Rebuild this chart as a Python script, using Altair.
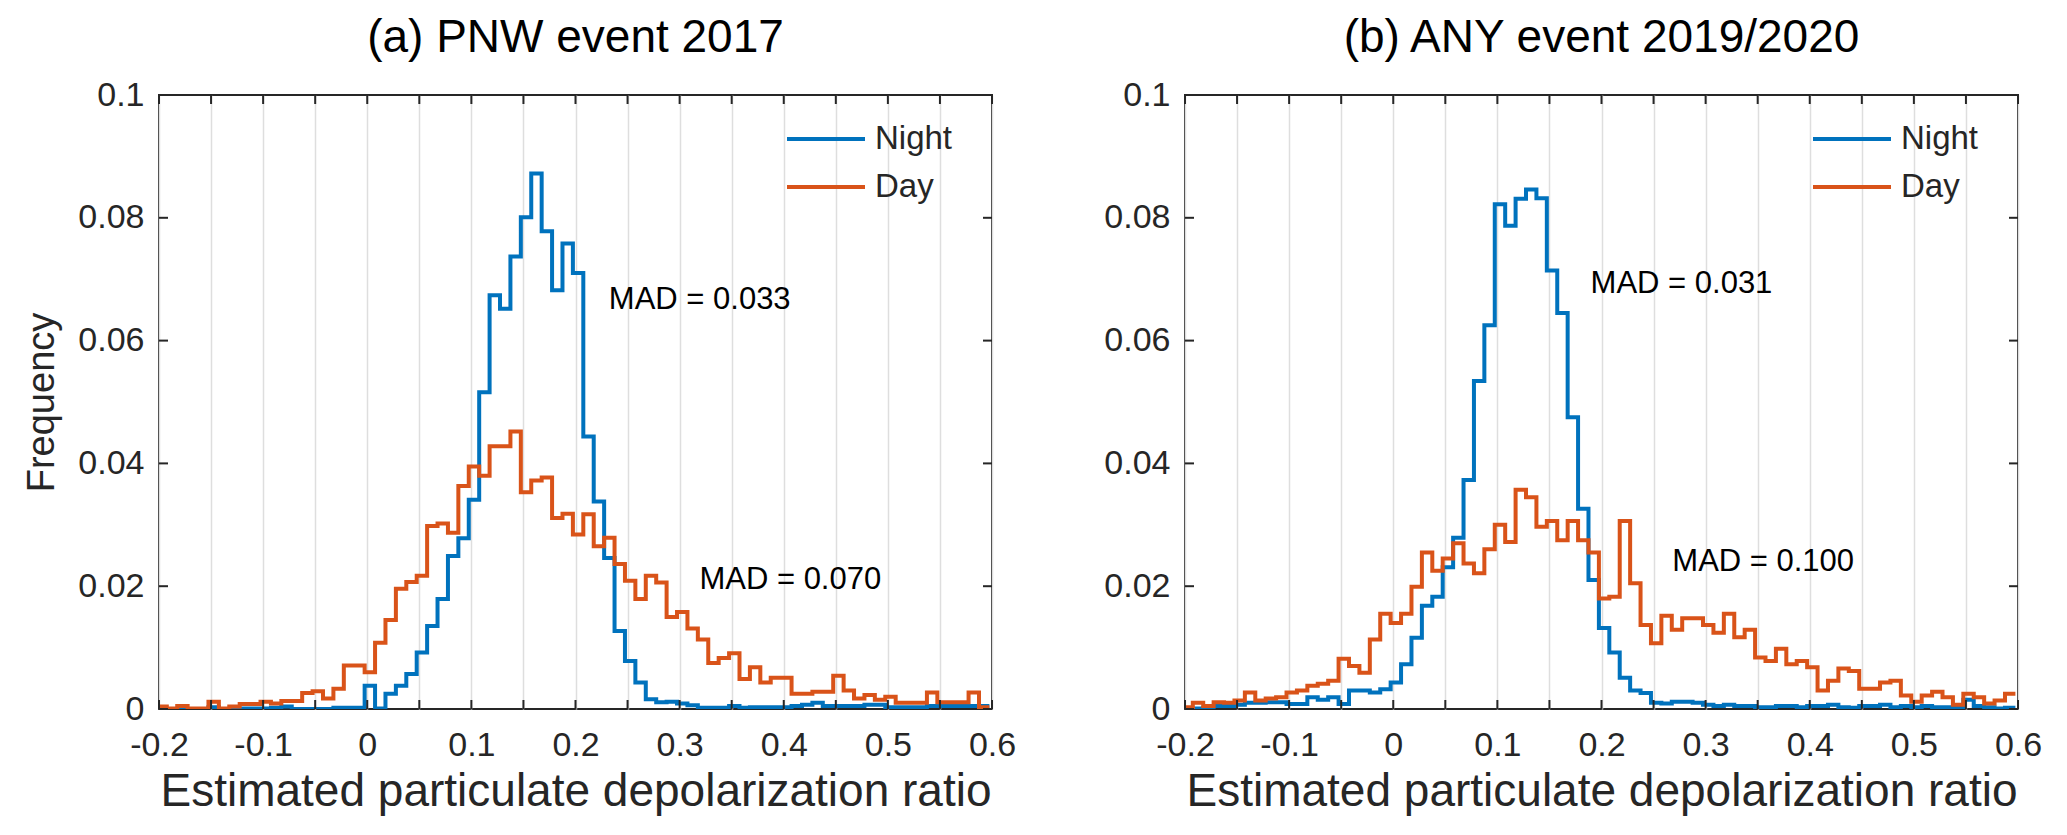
import altair as alt
import pandas as pd

# histogram bins (stairs), 0.01 wide
bin_start = -0.2025
bin_width = 0.01

# (a) PNW event 2017
pnw_night = [0, 0, 0, 0, 0, 0.0003, 0, 0, 0.0001, 0.0001,
             0.0001, 0.0002, 0.0004, 0, 0, 0, 0, 0.0002, 0.0002, 0.0002,
             0.0038, 0.0001, 0.0025, 0.0038, 0.0057, 0.0092, 0.0135, 0.0179, 0.0249, 0.0278,
             0.0341, 0.0516, 0.0674, 0.0652, 0.0737, 0.0801, 0.0872, 0.0778, 0.0682, 0.0758,
             0.0710, 0.0444, 0.0338, 0.0246, 0.0127, 0.0078, 0.0043, 0.0016, 0.0011, 0.0012,
             0.0009, 0.0006, 0.0002, 0.0002, 0.0002, 0.0005, 0.0002, 0.0003, 0.0003, 0.0003,
             0.0003, 0.0005, 0.0007, 0.0010, 0.0005, 0.0005, 0.0005, 0.0005, 0.0007, 0.0007,
             0.0003, 0.0003, 0.0003, 0.0003, 0.0005, 0.0005, 0.0005, 0.0005, 0.0005, 0.0005]
pnw_day = [0.0004, 0.0001, 0.0005, 0.0001, 0.0001, 0.0012, 0.0001, 0.0004, 0.0008, 0.0008,
           0.0012, 0.0009, 0.0013, 0.0013, 0.0026, 0.0029, 0.0017, 0.0033, 0.0071, 0.0071,
           0.0060, 0.0108, 0.0145, 0.0196, 0.0207, 0.0217, 0.0298, 0.0302, 0.0287, 0.0363,
           0.0395, 0.0380, 0.0428, 0.0428, 0.0452, 0.0353, 0.0372, 0.0377, 0.0311, 0.0318,
           0.0284, 0.0317, 0.0265, 0.0279, 0.0236, 0.0209, 0.0179, 0.0217, 0.0206, 0.0150,
           0.0158, 0.0131, 0.0113, 0.0075, 0.0083, 0.0091, 0.0049, 0.0068, 0.0043, 0.0051,
           0.0051, 0.0025, 0.0025, 0.0028, 0.0028, 0.0054, 0.0030, 0.0017, 0.0023, 0.0015,
           0.0020, 0.0010, 0.0010, 0.0010, 0.0027, 0.0011, 0.0011, 0.0011, 0.0027, 0.0003]

# (b) ANY event 2019/2020
any_night = [0.0001, 0.0001, 0.0002, 0.0005, 0.0005, 0.0007, 0.0010, 0.0010, 0.0011, 0.0011,
             0.0008, 0.0008, 0.0019, 0.0015, 0.0019, 0.0008, 0.0030, 0.0030, 0.0027, 0.0032,
             0.0043, 0.0073, 0.0116, 0.0168, 0.0183, 0.0231, 0.0279, 0.0373, 0.0534, 0.0625,
             0.0822, 0.0787, 0.0831, 0.0846, 0.0832, 0.0714, 0.0645, 0.0475, 0.0326, 0.0210,
             0.0132, 0.0092, 0.0051, 0.0030, 0.0026, 0.0010, 0.0009, 0.0012, 0.0012, 0.0010,
             0.0007, 0.0005, 0.0007, 0.0005, 0.0005, 0.0003, 0.0003, 0.0005, 0.0005, 0.0003,
             0.0005, 0.0005, 0.0007, 0.0003, 0.0002, 0.0005, 0.0005, 0.0007, 0.0003, 0.0005,
             0.0003, 0.0005, 0.0003, 0.0003, 0.0002, 0.0015, 0.0005, 0.0003, 0.0001, 0.0002]
any_day = [0.0003, 0.0010, 0.0005, 0.0011, 0.0010, 0.0014, 0.0027, 0.0014, 0.0017, 0.0019,
           0.0027, 0.0030, 0.0038, 0.0041, 0.0046, 0.0082, 0.0070, 0.0059, 0.0113, 0.0155,
           0.0140, 0.0155, 0.0199, 0.0255, 0.0225, 0.0245, 0.0270, 0.0237, 0.0221, 0.0260,
           0.0300, 0.0272, 0.0357, 0.0345, 0.0297, 0.0306, 0.0275, 0.0306, 0.0275, 0.0255,
           0.0180, 0.0183, 0.0306, 0.0205, 0.0137, 0.0107, 0.0152, 0.0129, 0.0148, 0.0148,
           0.0137, 0.0124, 0.0155, 0.0117, 0.0129, 0.0084, 0.0078, 0.0098, 0.0073, 0.0078,
           0.0068, 0.0030, 0.0046, 0.0066, 0.0062, 0.0033, 0.0033, 0.0043, 0.0046, 0.0022,
           0.0012, 0.0022, 0.0028, 0.0019, 0.0007, 0.0025, 0.0019, 0.0009, 0.0014, 0.0025]

series_names = ["Night", "Day"]
series_colors = ["#0072BD", "#D95319"]

xticks = [-0.2, -0.15, -0.1, -0.05, 0, 0.05, 0.1, 0.15, 0.2,
          0.25, 0.3, 0.35, 0.4, 0.45, 0.5, 0.55, 0.6]
yticks = [0, 0.02, 0.04, 0.06, 0.08, 0.1]

titles = ["(a) PNW event 2017", "(b) ANY event 2019/2020"]
mad_a = {"x": [0.232, 0.319], "y": [0.0666, 0.0210], "label": ["MAD = 0.033", "MAD = 0.070"]}
mad_b = {"x": [0.1895, 0.268], "y": [0.0692, 0.0239], "label": ["MAD = 0.031", "MAD = 0.100"]}

FONT = "Liberation Sans"
AXCOL = "#262626"
W, H = 833, 614
XTITLE = "Estimated particulate depolarization ratio"


def stairs(night, day):
    rows = []
    for name, vals in zip(series_names, [night, day]):
        edges = [round(bin_start + bin_width * k, 4) for k in range(len(vals) + 1)]
        for k, v in enumerate(vals):
            rows.append({"edge": edges[k], "freq": v, "series": name})
        rows.append({"edge": edges[-1], "freq": vals[-1], "series": name})
    return pd.DataFrame(rows)


def panel(night, day, title, mad, ytitle):
    xscale = alt.Scale(domain=[-0.2, 0.6], nice=False, zero=False)
    yscale = alt.Scale(domain=[0, 0.1], nice=False, zero=False)
    xaxis = alt.Axis(values=xticks, grid=True, ticks=False, domain=False,
                     labelFlush=False, labelOverlap=False, labelPadding=19,
                     titlePadding=7, titleFontSize=46,
                     labelExpr="abs(datum.value*10 - round(datum.value*10)) < 0.001"
                               " ? toString(round(datum.value*10)/10) : ''")
    yaxis = alt.Axis(values=yticks, grid=False, ticks=False, domain=False,
                     labelFlush=False, labelOverlap=False, labelPadding=15,
                     titlePadding=16, titleFontSize=38,
                     labelExpr="toString(round(datum.value*100)/100)")

    lines = alt.Chart(stairs(night, day)).mark_line(
        interpolate="step-after", strokeWidth=4, clip=True
    ).encode(
        x=alt.X("edge:Q", scale=xscale, title=XTITLE, axis=xaxis),
        y=alt.Y("freq:Q", scale=yscale, title=ytitle, axis=yaxis),
        color=alt.Color("series:N",
                        scale=alt.Scale(domain=series_names, range=series_colors),
                        legend=alt.Legend(orient="none", legendX=626, legendY=24, title=None,
                                          symbolType="stroke", symbolSize=6084,
                                          symbolStrokeWidth=4, labelFontSize=33,
                                          labelFont=FONT, labelColor=AXCOL, labelOffset=8,
                                          rowPadding=8, clipHeight=40, padding=0)),
    )

    # inward ticks on all four sides
    tx = pd.DataFrame({"edge": xticks})
    ty = pd.DataFrame({"freq": yticks})
    rule = dict(color=AXCOL, strokeWidth=2)
    xenc = alt.X("edge:Q", scale=xscale, title=XTITLE)
    yenc = alt.Y("freq:Q", scale=yscale, title=ytitle)
    ticks_bottom = alt.Chart(tx).mark_rule(**rule).encode(
        x=xenc, y=alt.value(H), y2=alt.value(H - 9))
    ticks_top = alt.Chart(tx).mark_rule(**rule).encode(
        x=xenc, y=alt.value(0), y2=alt.value(9))
    ticks_left = alt.Chart(ty).mark_rule(**rule).encode(
        y=yenc, x=alt.value(0), x2=alt.value(9))
    ticks_right = alt.Chart(ty).mark_rule(**rule).encode(
        y=yenc, x=alt.value(W), x2=alt.value(W - 9))

    notes = alt.Chart(
        pd.DataFrame({"edge": mad["x"], "freq": mad["y"], "label": mad["label"]})
    ).mark_text(
        align="left", baseline="middle", font=FONT, fontSize=31, color="black"
    ).encode(x=xenc, y=yenc, text="label:N")

    return alt.layer(lines, ticks_bottom, ticks_top, ticks_left, ticks_right, notes).properties(
        width=W, height=H,
        title=alt.TitleParams(title, fontSize=46, font=FONT, fontWeight="normal",
                              color="black", offset=16),
    )


left = panel(pnw_night, pnw_day, titles[0], mad_a, "Frequency")
right = panel(any_night, any_day, titles[1], mad_b, None)

chart = alt.hconcat(left, right, spacing=85, padding={"left": 14, "top": 6, "right": 5, "bottom": 2}
).resolve_scale(color="independent").resolve_legend(color="independent").configure_view(
    stroke=AXCOL, strokeWidth=2
).configure_axis(
    labelFont=FONT, labelFontSize=34, labelColor=AXCOL,
    titleFont=FONT, titleColor=AXCOL, titleFontWeight="normal",
    gridColor="#dedede", gridWidth=1.5,
)

chart.save("out.html", embed_options={"renderer": "svg", "actions": False})
